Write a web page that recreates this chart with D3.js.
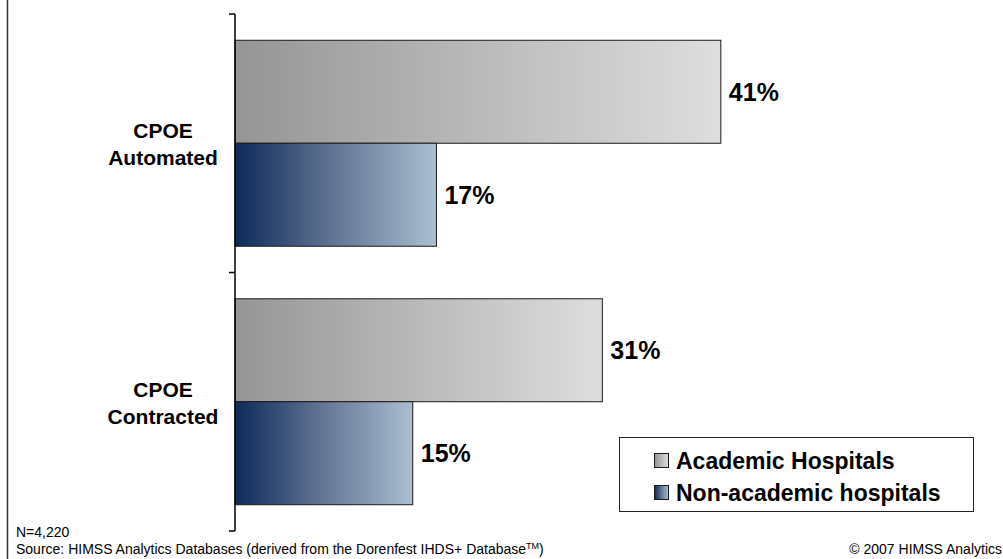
<!DOCTYPE html>
<html>
<head>
<meta charset="utf-8">
<script src="https://cdn.jsdelivr.net/npm/d3@7"></script>
<style>
  html, body { margin: 0; padding: 0; background: #ffffff; }
  svg { display: block; font-family: Arial, "Liberation Sans", Helvetica, sans-serif; }
</style>
</head>
<body>
<svg id="chart" width="1003" height="559"></svg>
<script>
// Share of hospitals with CPOE, by hospital type
const categories = ["CPOE Automated", "CPOE Contracted"];
const categoryLines = [["CPOE", "Automated"], ["CPOE", "Contracted"]];
const seriesNames = ["Academic Hospitals", "Non-academic hospitals"];
const academicValues = [41, 31];
const nonAcademicValues = [17, 15];
const footnoteN = "N=4,220";
const sourceText = "Source: HIMSS Analytics Databases (derived from the Dorenfest IHDS+ Database";
const copyrightText = "\u00A9 2007 HIMSS Analytics";

const seriesValues = [academicValues, nonAcademicValues];

const svg = d3.select("#chart");
const W = 1003, H = 559;

// gradients for the two series
const defs = svg.append("defs");
const gradStops = [
  [["0%", "#959595"], ["100%", "#dedede"]],
  [["0%", "#0c2a5b"], ["45%", "#5c6f8f"], ["100%", "#abbed2"]]
];
gradStops.forEach((stops, i) => {
  const g = defs.append("linearGradient")
    .attr("id", "grad" + i)
    .attr("x1", "0%").attr("x2", "100%").attr("y1", "0%").attr("y2", "0%");
  stops.forEach(s => g.append("stop").attr("offset", s[0]).attr("stop-color", s[1]));
});

// slide border on the left
svg.append("line")
  .attr("x1", 7.5).attr("x2", 7.5).attr("y1", 0).attr("y2", H)
  .attr("stroke", "#333").attr("stroke-width", 1.5);

// scales
const x = d3.scaleLinear().domain([0, 50]).range([235, 827.5]);
const y0 = d3.scaleBand().domain(categories).range([14, 531]).padding(0);
const y1 = d3.scaleBand().domain(seriesNames).range([0, y0.bandwidth()])
  .paddingInner(0).paddingOuter(0.255);

// bars
const groups = svg.append("g").selectAll("g")
  .data(categories)
  .join("g")
  .attr("transform", d => `translate(0,${y0(d)})`);

groups.each(function (cat, ci) {
  const g = d3.select(this);
  const rows = seriesNames.map((s, si) => ({ s, si, v: seriesValues[si][ci] }));
  g.selectAll("rect")
    .data(rows)
    .join("rect")
    .attr("x", x(0))
    .attr("y", d => y1(d.s))
    .attr("width", d => x(d.v) - x(0))
    .attr("height", y1.bandwidth())
    .attr("fill", d => `url(#grad${d.si})`)
    .attr("stroke", "#1a1a1a")
    .attr("stroke-width", 1);

  g.selectAll("text.val")
    .data(rows)
    .join("text")
    .attr("class", "val")
    .attr("x", d => x(d.v) + 8)
    .attr("y", d => y1(d.s) + y1.bandwidth() / 2)
    .attr("dy", "0.36em")
    .attr("font-size", 25)
    .attr("font-weight", "bold")
    .attr("fill", "#000")
    .text(d => d.v + "%");
});

// vertical category axis with ticks at band boundaries
const boundaries = categories.map(c => y0(c)).concat([y0.range()[1]]);
const axis = svg.append("g");
axis.append("line")
  .attr("x1", x(0)).attr("x2", x(0))
  .attr("y1", boundaries[0]).attr("y2", boundaries[boundaries.length - 1])
  .attr("stroke", "#000").attr("stroke-width", 1.5);
axis.selectAll("line.tick")
  .data(boundaries)
  .join("line")
  .attr("class", "tick")
  .attr("x1", x(0) - 6).attr("x2", x(0))
  .attr("y1", d => d).attr("y2", d => d)
  .attr("stroke", "#000").attr("stroke-width", 1.5);

// category labels
categories.forEach((c, ci) => {
  const cy = y0(c) + y0.bandwidth() / 2;
  const t = svg.append("text")
    .attr("x", 163)
    .attr("text-anchor", "middle")
    .attr("font-size", 21)
    .attr("font-weight", "bold")
    .attr("fill", "#000");
  categoryLines[ci].forEach((line, li) => {
    t.append("tspan")
      .attr("x", 163)
      .attr("y", cy - 5 + li * 27)
      .text(line);
  });
});

// legend
const legend = svg.append("g");
legend.append("rect")
  .attr("x", 619.5).attr("y", 437.5).attr("width", 354).attr("height", 74)
  .attr("fill", "#fff").attr("stroke", "#222").attr("stroke-width", 1);
seriesNames.forEach((s, i) => {
  const ly = 469 + i * 32;
  legend.append("rect")
    .attr("x", 654.5).attr("y", ly - 15.5).attr("width", 14).attr("height", 14)
    .attr("fill", `url(#grad${i})`).attr("stroke", "#1a1a1a").attr("stroke-width", 1);
  legend.append("text")
    .attr("x", 676).attr("y", ly)
    .attr("font-size", 23).attr("font-weight", "bold").attr("fill", "#000")
    .text(s);
});

// footnotes
svg.append("text")
  .attr("x", 16).attr("y", 537)
  .attr("font-size", 14).attr("fill", "#000")
  .text(footnoteN);
const src = svg.append("text")
  .attr("x", 16).attr("y", 554)
  .attr("font-size", 14).attr("fill", "#000")
  .text(sourceText);
src.append("tspan").attr("font-size", 9).attr("dy", -5).text("TM");
src.append("tspan").attr("dy", 5).text(")");
svg.append("text")
  .attr("x", 1002).attr("y", 554)
  .attr("text-anchor", "end")
  .attr("font-size", 14).attr("fill", "#000")
  .text(copyrightText);
</script>
</body>
</html>
